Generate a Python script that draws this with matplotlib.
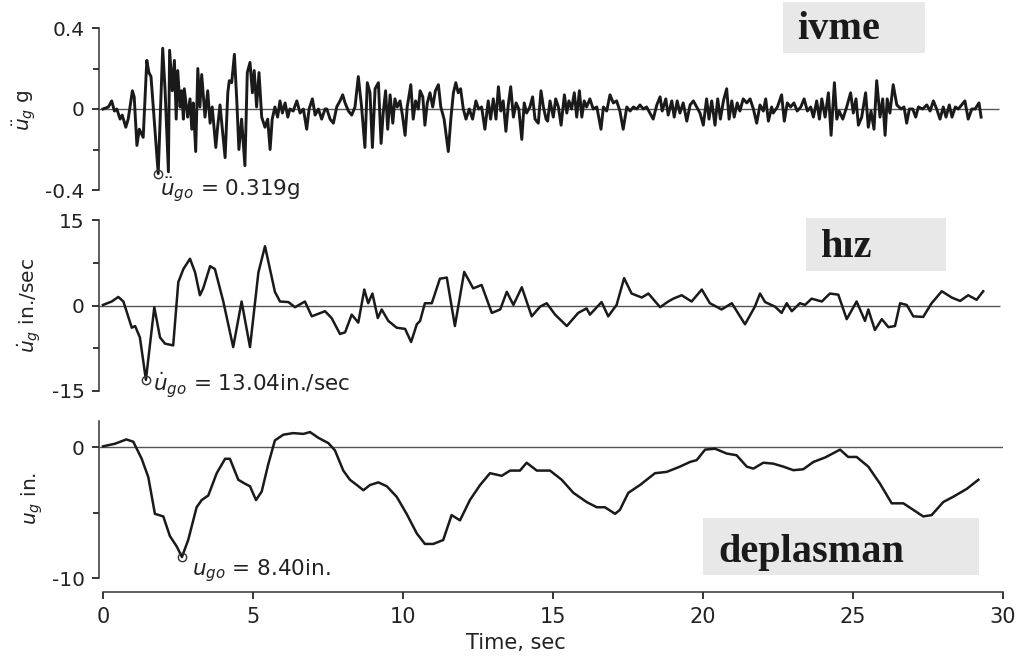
import matplotlib
matplotlib.use("Agg")
import matplotlib.pyplot as plt
from matplotlib.patches import Rectangle

# ground acceleration (g), turning points
acc_t = [0.0, 0.18, 0.29, 0.38, 0.46, 0.57, 0.64, 0.76, 0.84, 0.98, 1.04, 1.13, 1.21, 1.34, 1.46, 1.53, 1.6,
         1.84, 1.99, 2.07, 2.18, 2.22, 2.31, 2.38, 2.44, 2.49, 2.57, 2.62, 2.68, 2.71, 2.82, 2.9, 2.96, 3.01,
         3.09, 3.16, 3.23, 3.29, 3.4, 3.49, 3.57, 3.64, 3.76, 3.82, 3.9, 3.98, 4.07, 4.16, 4.21, 4.29, 4.38,
         4.46, 4.53, 4.62, 4.73, 4.81, 4.9, 4.98, 5.04, 5.12, 5.2, 5.29, 5.4, 5.49, 5.57, 5.64, 5.73, 5.82,
         5.9, 5.98, 6.07, 6.16, 6.23, 6.34, 6.46, 6.57, 6.68, 6.79, 6.87, 6.98, 7.07, 7.18, 7.29, 7.4,
         7.46, 7.57, 7.68, 7.79, 7.9, 7.99, 8.07, 8.18, 8.29, 8.4, 8.51, 8.62, 8.73, 8.81, 8.9, 8.98, 9.07,
         9.18, 9.27, 9.34, 9.42, 9.49, 9.57, 9.66, 9.73, 9.81, 9.9, 9.98, 10.07, 10.14, 10.26, 10.34, 10.42,
         10.51, 10.57, 10.66, 10.73, 10.81, 10.9, 10.99, 11.08, 11.18, 11.26, 11.37, 11.51, 11.6, 11.68,
         11.76, 11.84, 11.92, 12.01, 12.1, 12.21, 12.32, 12.43, 12.52, 12.62, 12.73, 12.84, 12.92, 13.01,
         13.1, 13.18, 13.26, 13.34, 13.43, 13.51, 13.59, 13.68, 13.77, 13.86, 13.96, 14.04, 14.12, 14.23,
         14.32, 14.4, 14.51, 14.6, 14.68, 14.77, 14.82, 14.9, 15.01, 15.09, 15.18, 15.27, 15.38, 15.46,
         15.53, 15.62, 15.71, 15.79, 15.88, 15.96, 16.04, 16.12, 16.23, 16.34, 16.46, 16.6, 16.68, 16.79,
         16.9, 17.01, 17.12, 17.23, 17.34, 17.46, 17.57, 17.68, 17.79, 17.9, 18.01, 18.12, 18.23, 18.34,
         18.46, 18.57, 18.64, 18.76, 18.84, 18.96, 19.04, 19.14, 19.23, 19.34, 19.46, 19.57, 19.68, 19.79,
         19.9, 20.01, 20.12, 20.2, 20.29, 20.4, 20.49, 20.58, 20.68, 20.79, 20.87, 20.96, 21.04, 21.14,
         21.23, 21.34, 21.46, 21.57, 21.68, 21.79, 21.9, 22.01, 22.09, 22.18, 22.29, 22.34, 22.48, 22.62,
         22.71, 22.81, 22.92, 23.03, 23.14, 23.26, 23.37, 23.48, 23.59, 23.68, 23.79, 23.88, 23.96, 24.07,
         24.18, 24.27, 24.38, 24.46, 24.54, 24.66, 24.79, 24.92, 25.01, 25.1, 25.18, 25.29, 25.42, 25.51,
         25.6, 25.7, 25.79, 25.9, 25.99, 26.07, 26.14, 26.23, 26.34, 26.46, 26.6, 26.7, 26.79, 26.88,
         26.99, 27.09, 27.18, 27.32, 27.46, 27.57, 27.68, 27.79, 27.9, 28.01, 28.1, 28.21, 28.3, 28.41,
         28.51, 28.62, 28.73, 28.84, 28.96, 29.07, 29.2, 29.27]
acc_g = [0.0, 0.01, 0.04, -0.01, 0.0, -0.05, -0.03, -0.09, -0.05, 0.09, 0.06, -0.18, -0.10, -0.14, 0.24,
         0.18, 0.16, -0.319, 0.30, 0.09, -0.31, 0.29, 0.09, 0.24, -0.05, 0.19, 0.01, 0.09, -0.05, 0.10,
         -0.04, 0.05, -0.10, 0.03, -0.21, 0.20, 0.01, 0.17, -0.04, 0.09, -0.07, 0.01, -0.19, -0.09, 0.02,
         -0.10, -0.24, 0.08, 0.14, 0.13, 0.27, 0.04, -0.20, -0.05, -0.28, 0.18, 0.23, 0.08, 0.19, 0.01, 0.18,
         -0.04, -0.09, -0.05, -0.20, -0.05, 0.01, -0.04, 0.04, -0.02, 0.03, -0.04, 0.0, -0.01, 0.04, -0.02,
         0.0, -0.10, 0.0, 0.05, -0.03, 0.0, -0.05, 0.0,
         0.0, -0.05, -0.07, 0.01, 0.04, 0.07, 0.03, -0.01, -0.03, 0.01, 0.16, 0.01, -0.19, 0.13, 0.08, -0.19,
         0.10, 0.13, -0.17, -0.02, 0.09, -0.10, 0.07, -0.07, 0.05, 0.01, 0.04, -0.03, -0.13, 0.01, 0.12,
         -0.05, 0.04, 0.0, 0.09, 0.06, -0.08, 0.03, 0.08, 0.01, 0.09, 0.12, 0.01, -0.05, -0.21, -0.04, 0.08,
         0.13, 0.08, 0.10, 0.0, -0.05, 0.0, -0.05, 0.04, 0.0, 0.01, -0.10, 0.04, -0.05, 0.05, -0.05, 0.11,
         -0.01, 0.04, -0.11, 0.02, 0.11, -0.04, 0.03, 0.0, -0.15, 0.03, -0.02, 0.01, 0.06, -0.05, -0.07,
         0.09, 0.01, -0.05, -0.06, 0.04, -0.04, 0.05, 0.01, -0.08, 0.07, -0.02, 0.04, 0.0, 0.08, -0.04, 0.09,
         -0.04, 0.04, 0.01, 0.05, 0.0, 0.01, -0.10, 0.01, -0.01, 0.07, 0.03, 0.04, -0.01, -0.10, 0.01, -0.01,
         0.01, 0.0, 0.02, 0.0, 0.01, -0.02, -0.05, 0.02, 0.06, -0.01, 0.05, -0.03, 0.04, -0.04, 0.04, -0.02,
         0.03, -0.06, 0.02, 0.04, 0.01, -0.02, -0.08, 0.05, -0.05, 0.04, -0.08, 0.05, -0.05, 0.04, 0.10,
         -0.05, 0.04, -0.04, 0.03, -0.01, 0.05, 0.03, 0.05, 0.0, -0.07, 0.02, -0.01, 0.05, -0.06, 0.01,
         -0.02, 0.01, 0.07, -0.06, 0.03, 0.01, 0.03, -0.01, 0.01, 0.05, -0.01, 0.01, -0.04, 0.04, -0.05,
         0.05, -0.04, 0.08, -0.13, 0.13, -0.05, -0.01, -0.05, 0.01, 0.08, -0.02, 0.05, -0.08, -0.04, 0.08,
         -0.09, -0.01, -0.10, 0.14, -0.04, 0.05, -0.13, 0.05, -0.02, 0.12, 0.02, 0.0, 0.01, -0.07, 0.0,
         0.0, -0.04, 0.01, 0.0, 0.02, -0.01, 0.04, 0.0, -0.05, 0.01, -0.04, 0.02, -0.04, 0.01, 0.0, 0.02,
         0.04, -0.05, 0.0, 0.0, 0.03, -0.04]

# ground velocity (in./sec)
vel_t = [0.0, 0.29, 0.51, 0.68, 0.96, 1.07, 1.23, 1.43, 1.71, 1.9, 2.07, 2.34, 2.51, 2.68, 2.9, 3.07, 3.23,
         3.34, 3.57, 3.73, 4.01, 4.34, 4.62, 4.9, 5.18, 5.4, 5.73, 5.9, 6.18, 6.4, 6.73, 6.96, 7.4, 7.62,
         7.9, 8.07, 8.29, 8.51, 8.71, 8.84, 8.98, 9.16, 9.29, 9.51, 9.79, 10.07, 10.27, 10.46, 10.57, 10.73,
         10.96, 11.23, 11.46, 11.73, 12.04, 12.34, 12.62, 12.96, 13.24, 13.46, 13.68, 13.96, 14.29, 14.57,
         14.79, 15.07, 15.46, 15.84, 16.12, 16.23, 16.62, 16.84, 17.12, 17.37, 17.62, 17.96, 18.18, 18.57,
         18.84, 19.01, 19.29, 19.62, 19.96, 20.23, 20.62, 20.96, 21.4, 21.73, 21.9, 22.07, 22.4, 22.62,
         22.79, 22.96, 23.23, 23.4, 23.62, 23.96, 24.23, 24.51, 24.79, 25.12, 25.4, 25.51, 25.73, 25.96,
         26.18, 26.4, 26.57, 26.79, 27.01, 27.34, 27.62, 27.96, 28.29, 28.57, 28.84, 29.12, 29.34]
vel_v = [0.1, 0.7, 1.5, 0.7, -3.9, -3.6, -5.6, -13.04, -0.3, -5.6, -6.7, -7.0, 4.1, 6.4, 8.2, 5.8, 1.8,
         3.0, 6.9, 6.4, 0.7, -7.3, 0.7, -7.3, 5.8, 10.4, 2.4, 0.7, 0.6, -0.3, 0.7, -1.9, -1.0, -2.2, -5.0,
         -4.7, -1.6, -3.0, 2.8, 0.4, 2.1, -2.2, -0.7, -2.7, -3.9, -4.1, -6.4, -3.3, -2.7, 0.4, 0.4, 4.7,
         4.9, -3.6, 5.9, 3.0, 3.6, -1.3, -0.7, 2.4, 0.1, 3.2, -1.9, -0.2, 0.4, -1.6, -3.6, -1.3, -0.5,
         -1.6, 0.6, -1.9, 0.1, 4.8, 2.1, 1.4, 2.1, -0.3, 0.7, 1.2, 1.8, 0.7, 2.8, 0.4, -0.7, 0.4, -3.3,
         -0.2, 2.1, 0.6, -0.2, -1.3, 0.4, -1.0, 0.4, 0.1, 1.2, 0.7, 2.1, 1.9, -2.4, 0.7, -2.7, -0.7, -4.3,
         -2.4, -3.8, -3.6, 0.4, 0.1, -1.9, -2.0, 0.4, 2.5, 1.4, 0.8, 1.8, 1.0, 2.5]

# ground displacement (in.)
disp_t = [0.0, 0.4, 0.78, 1.01, 1.29, 1.51, 1.73, 2.01, 2.23, 2.46, 2.63, 2.84, 3.12, 3.29, 3.51, 3.79,
          4.07, 4.23, 4.51, 4.73, 4.9, 5.1, 5.29, 5.51, 5.73, 6.01, 6.34, 6.68, 6.9, 7.18, 7.51, 7.73,
          8.01, 8.23, 8.46, 8.68, 8.9, 9.18, 9.46, 9.79, 10.12, 10.46, 10.73, 11.01, 11.34, 11.62, 11.9,
          12.23, 12.57, 12.9, 13.29, 13.57, 13.9, 14.12, 14.46, 14.9, 15.29, 15.68, 16.12, 16.46, 16.73,
          17.07, 17.23, 17.51, 17.9, 18.4, 18.79, 19.23, 19.57, 19.79, 20.07, 20.4, 20.79, 21.12, 21.46,
          21.68, 22.01, 22.34, 22.68, 23.01, 23.34, 23.68, 24.07, 24.57, 24.84, 25.12, 25.51, 25.9, 26.29,
          26.68, 27.01, 27.34, 27.62, 28.01, 28.34, 28.79, 29.18]
disp_d = [0.05, 0.25, 0.58, 0.4, -0.9, -2.3, -5.1, -5.3, -6.8, -7.6, -8.40, -7.1, -4.6, -4.05, -3.7, -2.0,
          -0.9, -0.9, -2.5, -2.8, -3.0, -4.05, -3.4, -1.3, 0.5, 0.94, 1.06, 1.0, 1.14, 0.7, 0.3, -0.25,
          -1.8, -2.5, -2.9, -3.3, -2.9, -2.7, -3.0, -3.8, -5.1, -6.6, -7.4, -7.4, -7.1, -5.2, -5.6, -4.05,
          -2.9, -2.0, -2.2, -1.8, -1.8, -1.2, -1.8, -1.8, -2.5, -3.5, -4.2, -4.6, -4.6, -5.1, -4.8, -3.5,
          -2.9, -2.0, -1.9, -1.5, -1.14, -1.0, -0.2, -0.13, -0.5, -0.63, -1.5, -1.65, -1.2, -1.27, -1.5,
          -1.77, -1.7, -1.14, -0.8, -0.2, -0.76, -0.76, -1.5, -2.8, -4.3, -4.3, -4.8, -5.3, -5.2, -4.2,
          -3.8, -3.2, -2.5]

acc_peak = (1.84, -0.319)
vel_peak = (1.43, -13.04)
disp_peak = (2.63, -8.40)

W, H = 1033, 664


def fx(px):
    return px / W


def fy(py):
    return 1 - py / H


fig = plt.figure(figsize=(W / 100, H / 100), dpi=100)
ink = '#1a1a1a'
tick_fs = 14.5
x0 = -0.15
ax_left = fx(103 + x0 * 30)
ax_w = (30 - x0) * 30 / W

ax1 = fig.add_axes([ax_left, fy(190), ax_w, 162 / H])
ax2 = fig.add_axes([ax_left, fy(391), ax_w, 171 / H])
ax3 = fig.add_axes([ax_left, fy(578), ax_w, 157.2 / H])

panels = [
    (ax1, acc_t, acc_g, (-0.4, 0.4), [-0.4, 0, 0.4], ['-0.4', '0', '0.4'], [-0.2, 0.2], acc_peak, 2.1),
    (ax2, vel_t, vel_v, (-15, 15), [-15, 0, 15], ['-15', '0', '15'], [-7.5, 7.5], vel_peak, 1.8),
    (ax3, disp_t, disp_d, (-10, 2), [-10, 0], ['-10', '0'], [-5], disp_peak, 1.8),
]
zero_end = [29.85, 29.9, 30.05]

for i, (ax, t, y, lim, ticks, labels, minors, peak, lw) in enumerate(panels):
    ax.hlines(0, x0, zero_end[i], color='#555555', lw=1.0, zorder=1)
    ax.plot(t, y, color=ink, lw=lw, zorder=2)
    ax.plot([peak[0]], [peak[1]], 'o', ms=6, mfc='none', mec='#333333', mew=1.0, clip_on=False)
    ax.set_xlim(x0, 30)
    ax.set_ylim(*lim)
    ax.set_yticks(ticks)
    ax.set_yticklabels(labels, fontsize=tick_fs, color='#222222')
    ax.set_yticks(minors, minor=True)
    ax.tick_params(axis='y', which='major', length=5, width=1.1, pad=5, direction='out')
    ax.tick_params(axis='y', which='minor', length=4, width=1.1, direction='out')
    ax.spines['left'].set_bounds(*lim)
    ax.spines['left'].set_linewidth(1.1)
    ax.spines['left'].set_color('#333333')
    for s in ['top', 'right']:
        ax.spines[s].set_visible(False)
    ax.patch.set_visible(False)
    if ax is not ax3:
        ax.spines['bottom'].set_visible(False)
        ax.set_xticks([])

ax3.spines['bottom'].set_position(('outward', 10))
ax3.spines['bottom'].set_bounds(0, 30)
ax3.spines['bottom'].set_linewidth(1.1)
ax3.spines['bottom'].set_color('#333333')
ax3.set_xticks([0, 5, 10, 15, 20, 25, 30])
ax3.set_xticklabels(['0', '5', '10', '15', '20', '25', '30'], fontsize=15, color='#222222')
ax3.tick_params(axis='x', length=5, width=1.1, pad=6)

# peak annotations
ann_fs = 15.5
ax1.text(1.9, -0.40, r'$\ddot{u}_{go}$ = 0.319g', fontsize=ann_fs, color='#222222', va='center', clip_on=False)
ax2.text(1.67, -13.9, r'$\dot{u}_{go}$ = 13.04in./sec', fontsize=ann_fs, color='#222222', va='center', clip_on=False)
ax3.text(2.97, -9.4, r'$u_{go}$ = 8.40in.', fontsize=ann_fs, color='#222222', va='center', clip_on=False)

# axis titles
fig.text(fx(24), fy(110), r'$\ddot{u}_g$ g', rotation=90, fontsize=14.5, color='#222222', ha='center', va='center')
fig.text(fx(30), fy(305), r'$\dot{u}_g$ in./sec', rotation=90, fontsize=14.5, color='#222222', ha='center', va='center')
fig.text(fx(32), fy(498), r'$u_g$ in.', rotation=90, fontsize=14.5, color='#222222', ha='center', va='center')
fig.text(fx(516), fy(643), 'Time, sec', fontsize=15, color='#222222', ha='center', va='center')

# Turkish labels in grey boxes
boxes = [
    ('ivme', 783, 2, 925, 53, 797, 39),
    ('hız', 806, 218, 946, 271, 821, 257),
    ('deplasman', 703, 518, 979, 575, 718, 562),
]
for label, bx0, by0, bx1, by1, tx, ty in boxes:
    fig.add_artist(Rectangle((fx(bx0), fy(by1)), (bx1 - bx0) / W, (by1 - by0) / H,
                             transform=fig.transFigure, facecolor='#e8e8e8', edgecolor='none', zorder=0))
    fig.text(fx(tx), fy(ty), label, fontsize=29, fontweight='bold', family='Liberation Serif',
             color='#1a1a1a', ha='left', va='baseline')

fig.savefig('out.png', dpi=100)
